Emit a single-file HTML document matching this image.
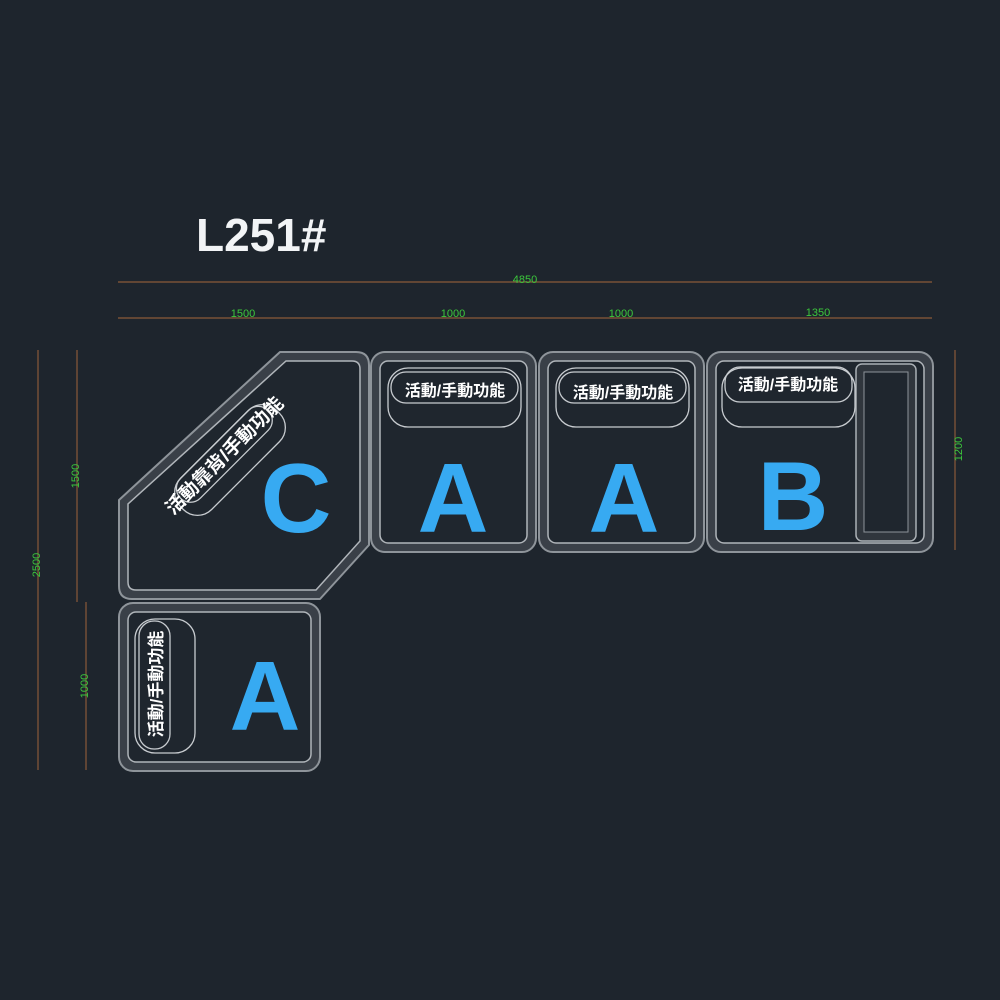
<!DOCTYPE html>
<html><head><meta charset="utf-8"><style>
html,body{margin:0;padding:0;background:#1e252d;}
svg{display:block}
.d{font-family:"Liberation Sans",sans-serif;font-size:11px;fill:#3cc83c}
.t{font-family:"Liberation Sans","Noto Sans CJK TC",sans-serif;font-weight:bold;fill:#fff}
.big{font-family:"Liberation Sans",sans-serif;font-weight:bold;fill:#37aaf2;font-size:98px}
.o{fill:#3a4048;stroke:#8e949a;stroke-width:2}
.i{fill:#1f262e;stroke:#b0b5ba;stroke-width:1.5}
.p{fill:none;stroke:#c8ccd0;stroke-width:1.3}
</style></head><body>
<svg width="1000" height="1000" viewBox="0 0 1000 1000">
<rect width="1000" height="1000" fill="#1e252d"/>
<text x="196" y="251" class="t" style="font-size:46px;fill:#f2f4f6">L251#</text>
<!-- dims -->
<g stroke="#8a5a3a" stroke-width="1.2">
<line x1="118" y1="282" x2="932" y2="282"/>
<line x1="118" y1="318" x2="932" y2="318"/>
<line x1="38" y1="350" x2="38" y2="770"/>
<line x1="77" y1="350" x2="77" y2="602"/>
<line x1="86" y1="602" x2="86" y2="770"/>
<line x1="955" y1="350" x2="955" y2="550"/>
</g>
<text class="d" x="525" y="283" text-anchor="middle">4850</text>
<text class="d" x="243" y="317" text-anchor="middle">1500</text>
<text class="d" x="453" y="317" text-anchor="middle">1000</text>
<text class="d" x="621" y="317" text-anchor="middle">1000</text>
<text class="d" x="818" y="316" text-anchor="middle">1350</text>
<text class="d" transform="translate(40,565) rotate(-90)" text-anchor="middle">2500</text>
<text class="d" transform="translate(79,476) rotate(-90)" text-anchor="middle">1500</text>
<text class="d" transform="translate(88,686) rotate(-90)" text-anchor="middle">1000</text>
<text class="d" transform="translate(962,449) rotate(-90)" text-anchor="middle">1200</text>
<!-- C module -->
<path class="o" d="M280,352 L356,352 Q369,352 369,365 L369,545 L320,599 L132,599 Q119,599 119,586 L119,500 Z" stroke-linejoin="round"/>
<path class="i" d="M286,361 L352,361 Q360,361 360,369 L360,541 L316,590 L136,590 Q128,590 128,582 L128,504 Z"/>
<!-- A modules -->
<rect class="o" x="371" y="352" width="165" height="200" rx="14"/>
<rect class="i" x="380" y="361" width="147" height="182" rx="8"/>
<rect class="o" x="539" y="352" width="165" height="200" rx="14"/>
<rect class="i" x="548" y="361" width="147" height="182" rx="8"/>
<rect class="o" x="707" y="352" width="226" height="200" rx="14"/>
<rect class="i" x="716" y="361" width="208" height="182" rx="8"/>
<rect class="o" x="119" y="603" width="201" height="168" rx="14"/>
<rect class="i" x="128" y="612" width="183" height="150" rx="8"/>
<!-- B armrest -->
<rect x="856" y="364" width="60" height="177" rx="6" fill="#30363d" stroke="#aab0b5" stroke-width="1.5"/>
<rect x="864" y="372" width="44" height="160" fill="#1f262e" stroke="#8e949a" stroke-width="1"/>
<!-- pills -->
<rect class="p" x="388" y="368" width="133" height="59" rx="20"/>
<rect class="p" x="391" y="372" width="127" height="31" rx="15"/>
<rect class="p" x="556" y="368" width="133" height="59" rx="20"/>
<rect class="p" x="559" y="372" width="127" height="31" rx="15"/>
<rect class="p" x="722" y="368" width="133" height="59" rx="20"/>
<rect class="p" x="725" y="367" width="127" height="35" rx="15"/>
<rect class="p" x="135" y="619" width="60" height="134" rx="20"/>
<rect class="p" x="139" y="621" width="31" height="128" rx="15"/>
<g transform="translate(230,460) rotate(-45)">
<rect class="p" x="-68" y="-22" width="136" height="44" rx="20"/>
<rect class="p" x="-62" y="-22" width="124" height="28" rx="14"/>
</g>
<!-- labels -->
<text class="t" x="455" y="396" font-size="16" text-anchor="middle">活動/手動功能</text>
<text class="t" x="623" y="398" font-size="16" text-anchor="middle">活動/手動功能</text>
<text class="t" x="788" y="390" font-size="16" text-anchor="middle">活動/手動功能</text>
<text class="t" transform="translate(162,684) rotate(-90)" font-size="17" text-anchor="middle">活動/手動功能</text>
<text class="t" transform="translate(229,460) rotate(-45)" font-size="19" text-anchor="middle">活動靠背/手動功能</text>
<text class="big" x="296" y="532" text-anchor="middle">C</text>
<text class="big" x="453" y="532" text-anchor="middle">A</text>
<text class="big" x="624" y="532" text-anchor="middle">A</text>
<text class="big" x="793" y="530" text-anchor="middle">B</text>
<text class="big" x="265" y="730" text-anchor="middle">A</text>
</svg>
</body></html>
